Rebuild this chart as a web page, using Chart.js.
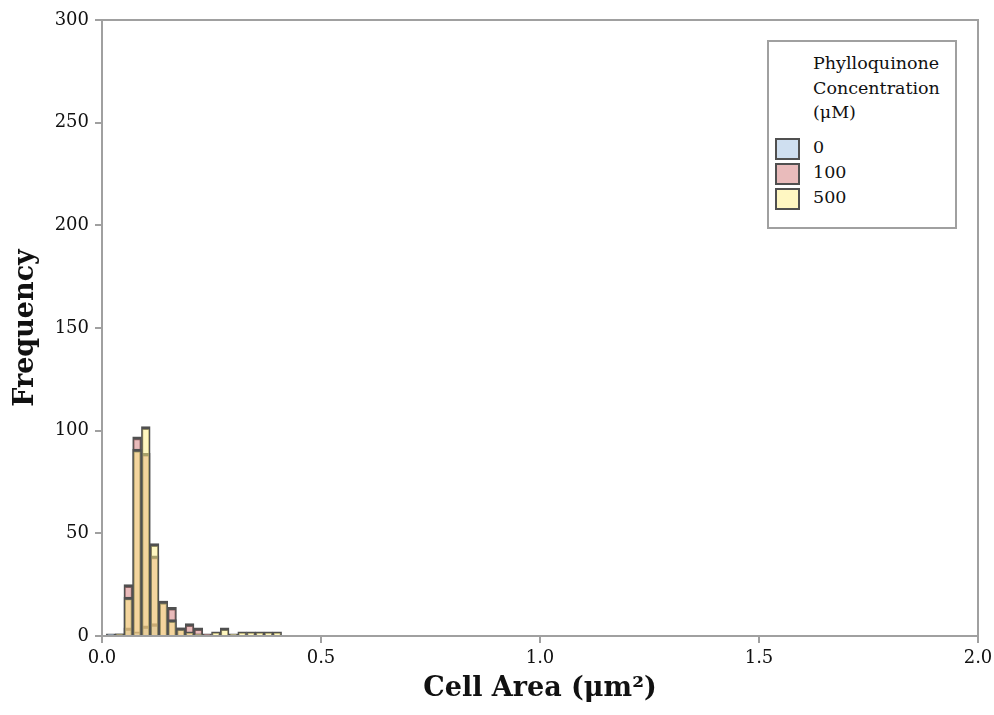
<!DOCTYPE html>
<html lang="en">
<head>
<meta charset="UTF-8">
<title>Cell Area Histogram</title>
<style>
    body { margin: 0; background: #fff; }
    .wrap { position: relative; width: 994px; height: 715px; }
    .legend {
        position: absolute; left: 767px; top: 40px; width: 186px; height: 185px;
        border: 2px solid #a0a0a0; background: #fff;
        font-family: 'DejaVu Serif', serif; font-size: 17.5px; color: #111;
    }
    .legend .title { position: absolute; left: 44px; top: 9px; line-height: 24.5px; }
    .legend .row { position: absolute; left: 6px; height: 22px; line-height: 22px; }
    .legend .swatch {
        display: inline-block; width: 21px; height: 18px; border: 2px solid #505050;
        vertical-align: middle; margin-right: 13px;
    }
</style>
</head>
<body>
<div class="wrap">
    <canvas id="hist" width="994" height="715"></canvas>
    <div class="legend" id="legend"></div>
</div>
<script src="https://cdn.jsdelivr.net/npm/chart.js"></script>
<script>
// bin centres (µm²), bins are 0.02 wide
const binCenters = [0.02, 0.04, 0.06, 0.08, 0.10, 0.12, 0.14, 0.16, 0.18, 0.20,
                    0.22, 0.24, 0.26, 0.28, 0.30, 0.32, 0.34, 0.36, 0.38, 0.40];
// cell counts per bin for each phylloquinone concentration
const conc0   = [1, 0, 4, 2, 5, 6, 0, 0, 0, 0, 0, 0, 0, 0, 0, 0, 0, 0, 0, 0];
const conc100 = [0, 1, 25, 97, 89, 39, 17, 14, 4, 6, 4, 1, 0, 0, 0, 0, 0, 0, 0, 0];
const conc500 = [0, 1, 19, 91, 102, 45, 17, 8, 4, 2, 1, 0, 2, 4, 1, 2, 2, 2, 2, 2];
const seriesLabels = ['0', '100', '500'];
const swatchColors = ['#cfdff0', '#e9bbbb', '#fff7c2'];
// translucent fills, half opacity so overlaps blend
const fillColors = ['rgba(159,191,225,0.5)', 'rgba(211,119,119,0.5)', 'rgba(255,239,129,0.5)'];
const xTicks = [0, 0.5, 1.0, 1.5, 2.0];
const yTicks = [0, 50, 100, 150, 200, 250, 300];

const FONT = "'DejaVu Serif', serif";
const GRAY = '#a0a0a0';

function toPoints(values) {
    return binCenters.map((x, i) => ({ x: x, y: values[i] }));
}

const allSeries = [conc0, conc100, conc500];
// chart.js draws the first dataset on top, so feed them highest concentration first
const datasets = [2, 1, 0].map(i => ({
    label: seriesLabels[i],
    data: toPoints(allSeries[i]),
    backgroundColor: fillColors[i],
    borderColor: '#505050',
    borderWidth: { top: 3, left: 1.5, right: 1.5, bottom: 0 },
    borderSkipped: false,
    barPercentage: 1,
    categoryPercentage: 1,
    grouped: false
}));

// box round the plot area
const frame = {
    id: 'frame',
    beforeDatasetsDraw(chart) {
        const a = chart.chartArea, ctx = chart.ctx;
        ctx.save();
        ctx.strokeStyle = GRAY;
        ctx.lineWidth = 2;
        ctx.strokeRect(a.left, a.top, a.right - a.left, a.bottom - a.top);
        ctx.restore();
    }
};

new Chart(document.getElementById('hist'), {
    type: 'bar',
    data: { datasets: datasets },
    options: {
        responsive: false,
        animation: false,
        layout: { padding: { left: 0, top: 20, right: 16, bottom: 0 } },
        plugins: {
            legend: { display: false },
            tooltip: { enabled: false }
        },
        scales: {
            x: {
                type: 'linear',
                min: 0,
                max: 2,
                offset: false,
                afterFit(scale) {
                    scale.height = 79;
                    scale.paddingRight = 0;
                    scale.paddingLeft = 0;
                },
                afterBuildTicks(scale) { scale.ticks = xTicks.map(v => ({ value: v })); },
                ticks: {
                    color: '#111',
                    padding: 5,
                    font: { family: FONT, size: 18 },
                    callback: v => v.toFixed(1)
                },
                grid: { display: true, drawOnChartArea: false, offset: false, color: GRAY, lineWidth: 2, tickLength: 7 },
                border: { display: true, color: GRAY, width: 2 },
                title: {
                    display: true,
                    text: 'Cell Area (μm²)',
                    color: '#111',
                    font: { family: FONT, size: 27, weight: 'bold' },
                    padding: { top: 0, bottom: 10 }
                }
            },
            y: {
                min: 0,
                max: 300,
                afterFit(scale) { scale.width = 102; },
                afterBuildTicks(scale) { scale.ticks = yTicks.map(v => ({ value: v })); },
                ticks: {
                    color: '#111',
                    padding: 6,
                    font: { family: FONT, size: 18 }
                },
                grid: { display: true, drawOnChartArea: false, color: GRAY, lineWidth: 2, tickLength: 7 },
                border: { display: true, color: GRAY, width: 2 },
                title: {
                    display: true,
                    text: 'Frequency',
                    color: '#111',
                    font: { family: FONT, size: 27, weight: 'bold' },
                    padding: { top: 10, bottom: 0 }
                }
            }
        }
    },
    plugins: [frame]
});

// legend box with title lines and swatches
const legend = document.getElementById('legend');
legend.innerHTML = '<div class="title">Phylloquinone<br>Concentration<br>(μM)</div>';
seriesLabels.forEach((lab, i) => {
    const row = document.createElement('div');
    row.className = 'row';
    row.style.top = (94 + i * 25) + 'px';
    row.innerHTML = '<span class="swatch" style="background:' + swatchColors[i] + '"></span>' + lab;
    legend.appendChild(row);
});
</script>
</body>
</html>
